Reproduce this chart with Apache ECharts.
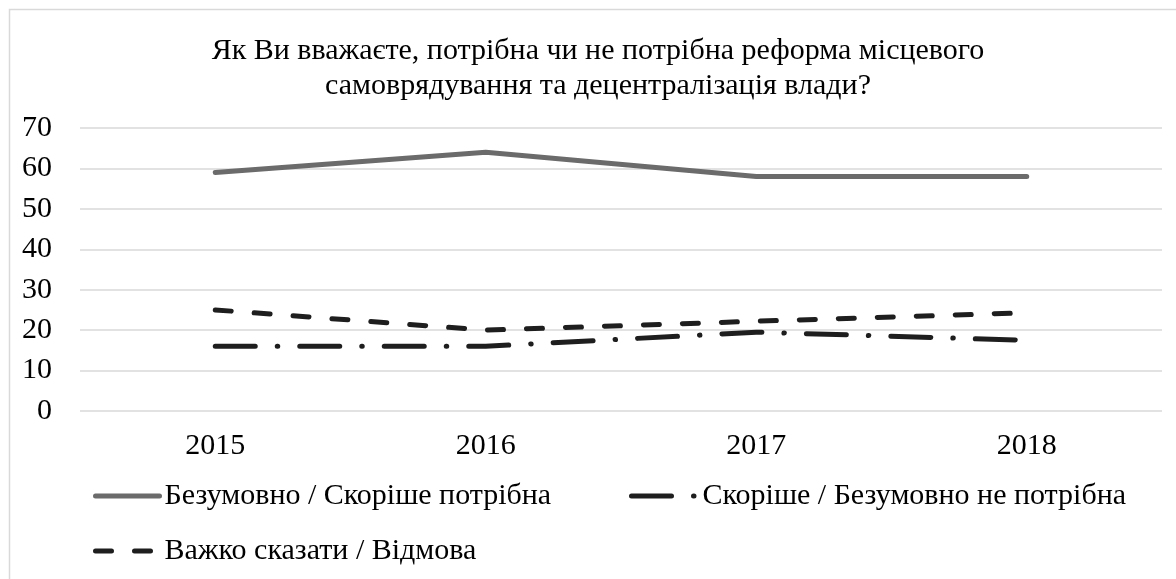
<!DOCTYPE html>
<html>
<head>
<meta charset="utf-8">
<script src="https://cdn.jsdelivr.net/npm/echarts@6/dist/echarts.min.js"></script>
<style>html,body{margin:0;padding:0;background:#fff}#c{width:1176px;height:579px}</style>
</head>
<body>
<div id="c"></div>
<script>
const titleText = 'Як Ви вважаєте, потрібна чи не потрібна реформа місцевого\nсамоврядування та децентралізація влади?';
const categories = ['2015', '2016', '2017', '2018'];
const seriesNames = ['Безумовно / Скоріше потрібна', 'Скоріше / Безумовно не потрібна', 'Важко сказати / Відмова'];
const needed = [59, 64, 58, 58];
const notNeeded = [16, 16, 19.5, 17.5];
const hardToSay = [25, 20, 22.2, 24.3];
const yTicks = {min: 0, max: 70, interval: 10};

const FONT = '"Liberation Serif", "Times New Roman", serif';
const chart = echarts.init(document.getElementById('c'), null, {renderer: 'canvas'});
const legendText = {fontFamily: FONT, fontSize: 30, color: '#000'};
const legendCommon = {itemHeight: 10, itemGap: 0, textStyle: legendText, lineStyle: {width: 5}, itemStyle: {opacity: 0, borderWidth: 0}};
chart.setOption({
  backgroundColor: '#fff',
  animation: false,
  graphic: [{
    type: 'rect', left: 7, top: 7, z: -10,
    shape: {width: 1200, height: 600},
    style: {fill: 'none', stroke: '#d9d9d9', lineWidth: 1.5}
  }],
  title: {
    text: titleText,
    left: 593, top: 29, textAlign: 'center',
    textStyle: {fontFamily: FONT, fontSize: 30, fontWeight: 'normal', color: '#000', lineHeight: 35}
  },
  grid: {left: 80, right: 14, top: 128, bottom: 168},
  xAxis: {
    type: 'category', data: categories, boundaryGap: true,
    axisLine: {show: false}, axisTick: {show: false},
    axisLabel: {fontFamily: FONT, fontSize: 30, color: '#000', margin: 20}
  },
  yAxis: {
    type: 'value', min: yTicks.min, max: yTicks.max, interval: yTicks.interval,
    axisLine: {show: false}, axisTick: {show: false},
    axisLabel: {fontFamily: FONT, fontSize: 30, color: '#000', margin: 28},
    splitLine: {lineStyle: {color: '#d9d9d9', width: 1.5}}
  },
  legend: [
    Object.assign({data: [seriesNames[0]], left: 88, top: 476, itemWidth: 64}, legendCommon),
    Object.assign({data: [seriesNames[1]], left: 624, top: 476, itemWidth: 66}, legendCommon),
    Object.assign({data: [seriesNames[2]], left: 88, top: 531, itemWidth: 64}, legendCommon)
  ],
  series: [
    {name: seriesNames[0], type: 'line', data: needed, symbol: 'none', color: '#6b6b6b',
     lineStyle: {width: 5, color: '#6b6b6b', cap: 'round', join: 'round'}},
    {name: seriesNames[1], type: 'line', data: notNeeded, symbol: 'none', color: '#1e1e1e',
     lineStyle: {width: 5, color: '#1e1e1e', type: [40, 22, 0.5, 22], cap: 'round', join: 'round'}},
    {name: seriesNames[2], type: 'line', data: hardToSay, symbol: 'none', color: '#1e1e1e',
     lineStyle: {width: 5, color: '#1e1e1e', type: [16, 23], cap: 'round', join: 'round'}}
  ]
});
</script>
</body>
</html>
